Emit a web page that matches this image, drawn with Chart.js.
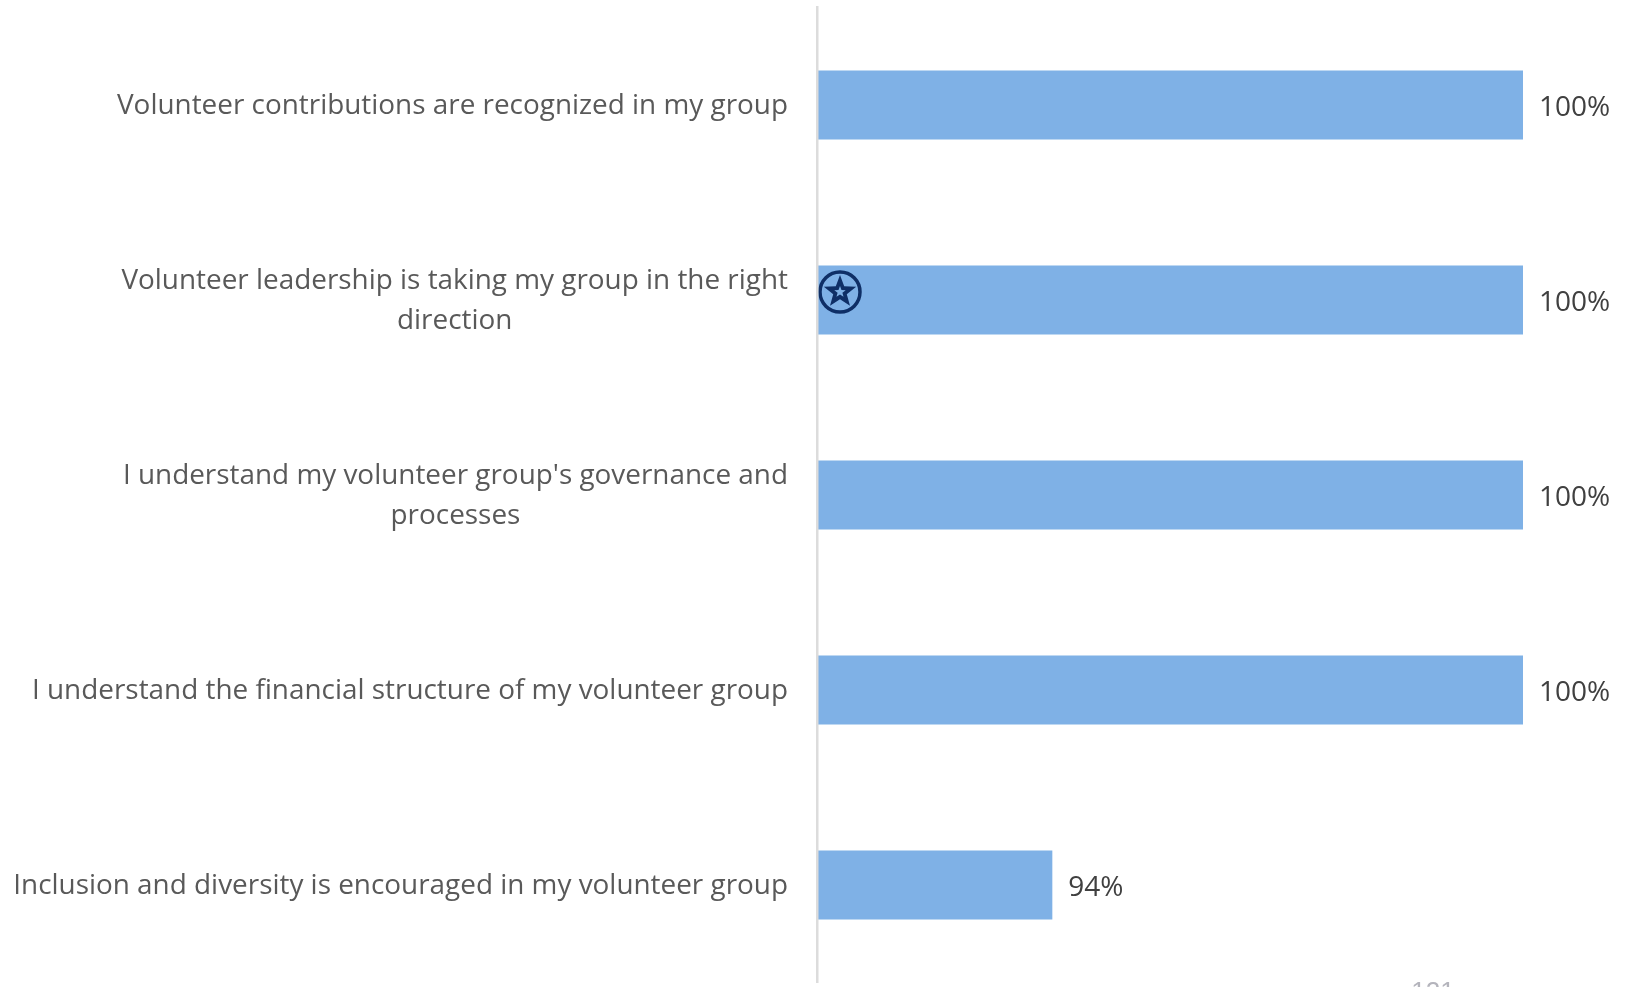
<!DOCTYPE html>
<html><head><meta charset="utf-8">
<style>html,body{margin:0;padding:0;background:#fff;overflow:hidden}#w{position:absolute;left:0;top:0;width:1626px;height:987px}</style>
<script src="https://cdn.jsdelivr.net/npm/chart.js@4"></script>
</head><body><div id="w"><canvas id="c"></canvas></div>
<script>
const categories = [
  "Volunteer contributions are recognized in my group",
  ["Volunteer leadership is taking my group in the right", "direction"],
  ["I understand my volunteer group's governance and", "processes"],
  "I understand the financial structure of my volunteer group",
  "Inclusion and diversity is encouraged in my volunteer group"
];
const values = [100, 100, 100, 100, 94];
const valueLabels = ["100%", "100%", "100%", "100%", "94%"];
const starredCategory = 1;
const pageNumber = "121";

const FONT = '"Open Sans", sans-serif';
const LABEL_SIZE = 27.9;
const plugin = {
  id: 'extras',
  beforeDraw(chart) {
    const y = chart.scales.y, ctx = chart.ctx;
    ctx.save();
    ctx.font = LABEL_SIZE + 'px ' + FONT;
    y.getLabelItems().forEach(it => {
      if (it.options.adjusted) return;
      it.options.adjusted = true;
      let dx = 0;
      if (Array.isArray(it.label)) {
        dx = Math.max(...it.label.map(s => ctx.measureText(s).width)) / 2;
        it.options.textAlign = 'center';
      }
      it.options.translation = [it.options.translation[0] - dx, it.options.translation[1] + 1];
    });
    ctx.restore();
  },
  afterDatasetsDraw(chart) {
    const ctx = chart.ctx, meta = chart.getDatasetMeta(0), x = chart.scales.x, y = chart.scales.y;
    ctx.save();
    ctx.font = '28px ' + FONT;
    ctx.fillStyle = '#404040';
    ctx.textBaseline = 'middle';
    ctx.textAlign = 'left';
    meta.data.forEach((b, i) => ctx.fillText(valueLabels[i], b.x + 16, b.y + 3));

    const cx = x.left + 23, cy = y.getPixelForValue(starredCategory) - 8;
    ctx.strokeStyle = '#0f2f66'; ctx.lineWidth = 3.5;
    ctx.beginPath(); ctx.arc(cx, cy, 20, 0, Math.PI * 2); ctx.stroke();
    const star = (r, col) => {
      ctx.fillStyle = col; ctx.beginPath();
      for (let k = 0; k < 10; k++) {
        const rr = k % 2 ? r * 0.42 : r, a = -Math.PI / 2 + k * Math.PI / 5;
        ctx.lineTo(cx + rr * Math.cos(a), cy + rr * Math.sin(a));
      }
      ctx.closePath(); ctx.fill();
    };
    star(17, '#0f2f66'); star(6, '#7fb1e6');

    ctx.font = '26px "Liberation Sans", Arial, sans-serif';
    ctx.fillStyle = '#b4b4bc';
    ctx.textAlign = 'center'; ctx.textBaseline = 'alphabetic';
    ctx.fillText(pageNumber, 1433, 1000);
    ctx.restore();
  }
};
new Chart(document.getElementById('c'), {
  type: 'bar',
  data: { labels: categories, datasets: [{ data: values, backgroundColor: '#7fb1e6', barPercentage: 0.354, categoryPercentage: 1 }] },
  options: {
    indexAxis: 'y', responsive: true, maintainAspectRatio: false, animation: false,
    layout: { padding: { top: 7.5, bottom: 4.5, right: 103, left: 0 } },
    plugins: { legend: { display: false }, tooltip: { enabled: false } },
    scales: {
      x: { display: false, min: 91, max: 100 },
      y: {
        afterFit(s) { s.width = 817; s.paddingTop = 0; s.paddingBottom = 0; },
        grid: { display: false, drawTicks: false },
        border: { display: true, color: '#dcdcdc', width: 2.5, z: 1 },
        ticks: { padding: 29, color: '#595959', font: { family: FONT, size: LABEL_SIZE, lineHeight: 1.42 }, autoSkip: false }
      }
    }
  },
  plugins: [plugin]
});
</script></body></html>
